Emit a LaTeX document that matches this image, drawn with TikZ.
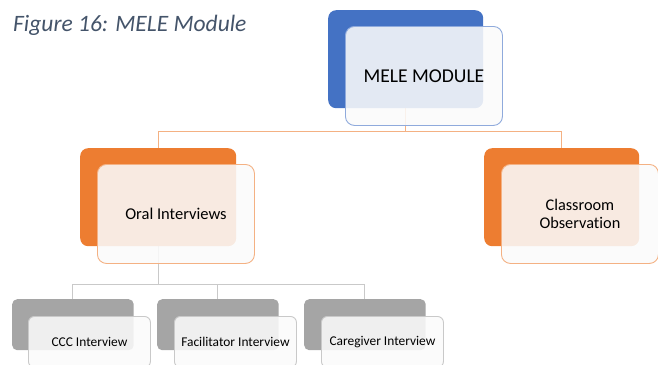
\documentclass[tikz,border=0pt]{standalone}
\usepackage{fontspec}
\setmainfont{Carlito}[Ligatures={NoCommon}]
\definecolor{cblue}{HTML}{4472C4}
\definecolor{cbluel}{HTML}{8FAADC}
\definecolor{corange}{HTML}{ED7D31}
\definecolor{corangel}{HTML}{F4B183}
\definecolor{cgray}{HTML}{A5A5A5}
\definecolor{cgrayl}{HTML}{C9C9C9}
\definecolor{captc}{HTML}{44546A}
\definecolor{frontfill}{HTML}{FAFAFA}
\begin{document}
\begin{tikzpicture}[x=1pt,y=-1pt,
  backbox/.style={rectangle, rounded corners=#1, inner sep=0pt, anchor=north west, draw=none},
  frontbox/.style={rectangle, rounded corners=#1, inner sep=0pt, anchor=north west, fill=frontfill, fill opacity=0.88, text opacity=1, line width=0.9pt, align=center},
  bigsize/.style={minimum width=156pt, minimum height=98pt},
  smallsize/.style={minimum width=121.5pt, minimum height=51pt},
  oconn/.style={draw=corangel, line width=1pt},
  gconn/.style={draw=cgrayl, line width=1pt}]
\useasboundingbox (0,0) rectangle (658,364);
\clip (0,0) rectangle (658,364);

% caption
\node[anchor=base west, inner sep=0pt, text=captc, font=\itshape\fontsize{23.5}{28}\selectfont] (cap) at (13,31) {Figure 16: MELE Module};

% back boxes (positions)
\coordinate (melbp) at (328,10);
\coordinate (oralbp) at (80,148);
\coordinate (classbp) at (484,148);
\coordinate (cccbp) at (12,299);
\coordinate (facbp) at (157,299);
\coordinate (carbp) at (304,299);

% connectors (drawn first)
\path (405.5,108) coordinate (melbs);
\path (405.5,131) coordinate (h1);
\path (158,246) coordinate (oralbs);
\path (158,284) coordinate (h2);
\draw[oconn] (melbs) -- (h1) -| (158,148);
\draw[oconn] (h1) -| (561.5,148);
\draw[gconn] (oralbs) -- (h2) -| (72.5,299);
\draw[gconn] (h2) -| (217.5,299);
\draw[gconn] (h2) -| (364.5,299);

% back boxes
\node[backbox=8pt, bigsize, fill=cblue, minimum width=155pt] (melb) at (melbp) {};
\node[backbox=8pt, bigsize, fill=corange] (oralb) at (oralbp) {};
\node[backbox=8pt, bigsize, fill=corange, minimum width=155pt] (classb) at (classbp) {};
\node[backbox=5pt, smallsize, fill=cgray] (cccb) at (cccbp) {};
\node[backbox=5pt, smallsize, fill=cgray] (facb) at (facbp) {};
\node[backbox=5pt, smallsize, fill=cgray] (carb) at (carbp) {};

% front boxes
\node[frontbox=9pt, bigsize, minimum width=157pt, minimum height=99pt, draw=cbluel, font=\fontsize{19.6}{23}\selectfont] (mel) at (345,26) {MELE MODULE};
\node[frontbox=9pt, bigsize, minimum width=157pt, minimum height=99pt, draw=corangel, font=\fontsize{16.5}{20}\selectfont] (oral) at (97,164) {Oral Interviews};
\node[frontbox=9pt, bigsize, minimum width=157pt, minimum height=99pt, draw=corangel, font=\fontsize{16.3}{17.5}\selectfont] (class) at (501,164) {Classroom\\Observation};
\node[frontbox=6pt, smallsize, minimum width=122pt, draw=cgrayl, font=\fontsize{13.4}{16}\selectfont] (ccc) at (28,316) {CCC Interview};
\node[frontbox=6pt, smallsize, minimum width=122pt, draw=cgrayl, font=\fontsize{13.4}{16}\selectfont] (fac) at (174,316) {Facilitator Interview};
\node[frontbox=6pt, smallsize, minimum width=122pt, draw=cgrayl, font=\fontsize{13.4}{16}\selectfont] (car) at (321,316) {Caregiver Interview};
\end{tikzpicture}
\end{document}
